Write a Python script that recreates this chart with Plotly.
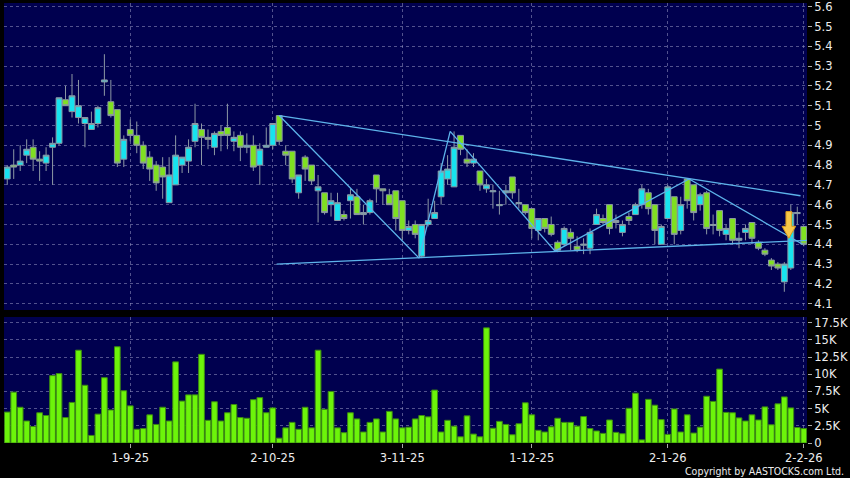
import plotly.graph_objects as go

# ---------------- data ----------------
opens = [4.73, 4.80, 4.80, 4.85, 4.89, 4.83, 4.81, 4.89, 4.91, 5.13,
         5.07, 5.04, 5.01, 4.98, 5.01, 5.22, 5.12, 5.08, 4.83, 4.98,
         4.95, 4.90, 4.84, 4.80, 4.79, 4.61, 4.70, 4.80, 4.82, 4.92,
         4.98, 4.94, 4.89, 4.97, 4.99, 4.92, 4.95, 4.89, 4.90, 4.80,
         4.89, 4.90, 5.05, 4.87, 4.87, 4.66, 4.84, 4.80, 4.67, 4.66,
         4.60, 4.52, 4.55, 4.62, 4.64, 4.55, 4.56, 4.75, 4.68, 4.65,
         4.67, 4.62, 4.47, 4.50, 4.34, 4.50, 4.53, 4.64, 4.73, 4.69,
         4.95, 4.83, 4.81, 4.77, 4.68, 4.665, 4.595, 4.66, 4.74, 4.605,
         4.60, 4.58, 4.47, 4.53, 4.50, 4.41, 4.40, 4.46, 4.39, 4.395,
         4.38, 4.50, 4.53, 4.60, 4.52, 4.46, 4.54, 4.55, 4.60, 4.66,
         4.60, 4.40, 4.53, 4.64, 4.47, 4.73, 4.70, 4.60, 4.66, 4.495,
         4.57, 4.45, 4.53, 4.42, 4.46, 4.51, 4.41, 4.37, 4.32, 4.30,
         4.21, 4.28, 4.555, 4.49]
highs = [4.80, 4.88, 4.90, 4.93, 4.93, 4.87, 4.89, 4.94, 5.14, 5.20,
         5.26, 5.23, 5.04, 5.07, 5.10, 5.36, 5.23, 5.08, 4.95, 5.03,
         5.02, 4.92, 4.87, 4.82, 4.84, 4.84, 4.95, 4.84, 4.93, 5.11,
         5.01, 4.98, 4.97, 5.00, 5.11, 4.97, 4.97, 4.96, 4.95, 4.91,
         4.99, 5.01, 5.05, 4.90, 4.87, 4.75, 4.85, 4.80, 4.75, 4.66,
         4.66, 4.66, 4.57, 4.68, 4.68, 4.60, 4.63, 4.75, 4.68, 4.68,
         4.67, 4.62, 4.52, 4.52, 4.50, 4.63, 4.62, 4.81, 4.85, 4.97,
         4.95, 4.88, 4.86, 4.77, 4.73, 4.70, 4.67, 4.70, 4.74, 4.68,
         4.60, 4.58, 4.53, 4.53, 4.54, 4.42, 4.49, 4.48, 4.44, 4.43,
         4.48, 4.58, 4.55, 4.60, 4.55, 4.52, 4.56, 4.61, 4.70, 4.68,
         4.60, 4.50, 4.70, 4.64, 4.64, 4.73, 4.70, 4.66, 4.67, 4.55,
         4.57, 4.50, 4.53, 4.46, 4.50, 4.51, 4.42, 4.38, 4.33, 4.31,
         4.31, 4.60, 4.59, 4.49]
lows = [4.70, 4.73, 4.77, 4.81, 4.77, 4.72, 4.77, 4.70, 4.90, 5.10,
        5.04, 5.01, 4.89, 4.98, 4.99, 5.15, 5.04, 4.79, 4.79, 4.92,
        4.86, 4.78, 4.72, 4.67, 4.63, 4.61, 4.70, 4.76, 4.76, 4.89,
        4.80, 4.88, 4.85, 4.87, 4.88, 4.87, 4.82, 4.86, 4.77, 4.70,
        4.89, 4.88, 4.90, 4.80, 4.71, 4.63, 4.72, 4.70, 4.51, 4.55,
        4.54, 4.52, 4.52, 4.53, 4.55, 4.50, 4.55, 4.61, 4.60, 4.60,
        4.47, 4.42, 4.45, 4.43, 4.33, 4.49, 4.53, 4.60, 4.70, 4.69,
        4.85, 4.79, 4.79, 4.67, 4.66, 4.58, 4.55, 4.60, 4.63, 4.58,
        4.55, 4.43, 4.42, 4.46, 4.44, 4.36, 4.39, 4.37, 4.36, 4.35,
        4.35, 4.50, 4.50, 4.45, 4.48, 4.44, 4.50, 4.55, 4.58, 4.55,
        4.40, 4.40, 4.53, 4.40, 4.45, 4.58, 4.52, 4.57, 4.45, 4.45,
        4.44, 4.42, 4.40, 4.38, 4.42, 4.40, 4.37, 4.34, 4.27, 4.27,
        4.16, 4.27, 4.50, 4.39]
closes = [4.79, 4.79, 4.82, 4.88, 4.83, 4.82, 4.85, 4.91, 5.14, 5.10,
          5.15, 5.10, 5.04, 5.01, 5.09, 5.23, 5.05, 4.81, 4.93, 4.95,
          4.90, 4.81, 4.78, 4.71, 4.74, 4.75, 4.85, 4.84, 4.89, 5.01,
          4.94, 4.93, 4.96, 4.95, 4.95, 4.94, 4.89, 4.90, 4.79, 4.88,
          4.90, 5.01, 4.92, 4.85, 4.73, 4.75, 4.78, 4.72, 4.69, 4.56,
          4.62, 4.61, 4.53, 4.65, 4.55, 4.56, 4.62, 4.68, 4.67, 4.60,
          4.53, 4.47, 4.49, 4.45, 4.50, 4.52, 4.56, 4.77, 4.78, 4.89,
          4.88, 4.81, 4.83, 4.70, 4.70, 4.67, 4.60, 4.67, 4.66, 4.61,
          4.56, 4.48, 4.53, 4.48, 4.45, 4.37, 4.48, 4.43, 4.37, 4.40,
          4.46, 4.55, 4.51, 4.48, 4.51, 4.50, 4.52, 4.60, 4.68, 4.58,
          4.47, 4.49, 4.69, 4.45, 4.60, 4.62, 4.56, 4.65, 4.48, 4.50,
          4.47, 4.48, 4.42, 4.43, 4.48, 4.43, 4.38, 4.35, 4.29, 4.28,
          4.30, 4.56, 4.56, 4.40]
volumes = [4500, 7400, 5200, 3200, 2400, 4400, 4000, 9800, 10100, 3700,
           5900, 13500, 8400, 1100, 4200, 9500, 4800, 14000, 7600, 5400,
           2000, 2100, 4100, 2700, 5200, 3200, 11800, 6100, 7000, 7000,
           12900, 3300, 6000, 3200, 4400, 5600, 3700, 3600, 6300, 6600,
           4400, 5100, 700, 2200, 3000, 2000, 5200, 2200, 13500, 4900,
           7500, 2200, 1500, 4400, 3500, 1600, 3000, 3500, 1600, 4600,
           3500, 2200, 2300, 3500, 4000, 3800, 7700, 1600, 3300, 2450,
           900, 3950, 1300, 900, 16750, 2150, 3150, 2700, 1200, 2800,
           5850, 4100, 1850, 1600, 2350, 3600, 3000, 3000, 2450, 3850,
           2100, 1750, 1400, 3350, 1550, 1350, 5050, 7250, 450, 6350,
           5500, 3400, 1250, 4950, 1600, 4100, 1450, 2300, 6800, 6050,
           10750, 4450, 4400, 3650, 3200, 4100, 3350, 5250, 2650, 5700,
           6700, 5100, 2250, 2100]

tick_idx = [19, 41, 61, 81, 102, 123]
tick_labels = ["1-9-25", "2-10-25", "3-11-25", "1-12-25", "2-1-26", "2-2-26"]
price_ticks = [4.1, 4.2, 4.3, 4.4, 4.5, 4.6, 4.7, 4.8, 4.9, 5.0,
               5.1, 5.2, 5.3, 5.4, 5.5, 5.6]
price_labels = ["4.1", "4.2", "4.3", "4.4", "4.5", "4.6", "4.7", "4.8", "4.9", "5",
                "5.1", "5.2", "5.3", "5.4", "5.5", "5.6"]
vol_ticks = [0, 2500, 5000, 7500, 10000, 12500, 15000, 17500]
vol_labels = ["0", "2.5K", "5K", "7.5K", "10K", "12.5K", "15K", "17.5K"]

# drawn pattern lines (index, price)
zigzag_idx = [42, 63.6, 68.4, 84.6, 105.3, 122.8]
zigzag_price = [5.05, 4.33, 4.97, 4.365, 4.73, 4.40]
upper_idx = [42, 122.5]
upper_price = [5.05, 4.645]
lower_idx = [41.6, 123.5]
lower_price = [4.30, 4.42]
signal_idx = 120.7
signal_top = 4.565
signal_tip = 4.43

idx = list(range(len(closes)))

# ---------------- figure ----------------
fig = go.Figure()

fig.add_trace(go.Candlestick(
    x=idx, open=opens, high=highs, low=lows, close=closes,
    increasing=dict(fillcolor="#17E3EF", line=dict(color="#8C98A4", width=1)),
    decreasing=dict(fillcolor="#7FE021", line=dict(color="#8C98A4", width=1)),
    whiskerwidth=0, xaxis="x", yaxis="y", hoverinfo="skip", showlegend=False))

line_col = "#5DB3EA"
for xs, ys in [(zigzag_idx, zigzag_price), (upper_idx, upper_price), (lower_idx, lower_price)]:
    fig.add_trace(go.Scatter(x=xs, y=ys, mode="lines", line=dict(color=line_col, width=1.3),
                             xaxis="x", yaxis="y", hoverinfo="skip", showlegend=False))

fig.add_trace(go.Bar(
    x=idx, y=volumes, marker=dict(color="#6CF40A", line=dict(color="#3C8A12", width=1)),
    xaxis="x2", yaxis="y2", hoverinfo="skip", showlegend=False))

# signal arrow (built from the signal values)
neck = signal_top - 0.55 * (signal_top - signal_tip)
sw, hw = 0.45, 1.05
arrow_path = (f"M {signal_idx - sw},{signal_top} L {signal_idx + sw},{signal_top} "
              f"L {signal_idx + sw},{neck} L {signal_idx + hw},{neck} L {signal_idx},{signal_tip} "
              f"L {signal_idx - hw},{neck} L {signal_idx - sw},{neck} Z")
fig.add_shape(type="path", path=arrow_path, xref="x", yref="y",
              fillcolor="#F8C848", line=dict(color="#D99A1C", width=1), layer="above")

grid_col = "rgba(150,150,195,0.55)"
font_col = "#EDEDED"
tick_font = dict(family="DejaVu Sans", size=11.5, color=font_col)

common = dict(showgrid=True, gridcolor=grid_col, griddash="3px,3px", gridwidth=1,
              zeroline=False, showline=False, automargin=False, ticklabeloverflow="allow")

fig.update_layout(
    width=850, height=478,
    margin=dict(l=4, r=43, t=3, b=35),
    paper_bgcolor="#000000", plot_bgcolor="#00004F",
    boxgap=0.1, boxgroupgap=0, bargap=0.12,
    hovermode=False,
    xaxis=dict(domain=[0, 1], range=[-0.5, 123.5], anchor="y",
               tickvals=tick_idx, showticklabels=False, ticks="",
               rangeslider=dict(visible=False), **common),
    yaxis=dict(domain=[0.3023, 1], range=[4.068, 5.6187], anchor="x", side="right",
               tickvals=price_ticks, ticktext=price_labels, ticks="outside", ticklen=4,
               tickcolor="#A8A8A8", tickfont=tick_font, **common),
    xaxis2=dict(domain=[0, 1], range=[-0.5, 123.5], anchor="y2",
                tickvals=tick_idx, ticktext=tick_labels, ticks="outside", ticklen=4,
                tickcolor="#A8A8A8", tickfont=tick_font, **common),
    yaxis2=dict(domain=[0, 0.2864], range=[0, 18330], anchor="x2", side="right",
                tickvals=vol_ticks, ticktext=vol_labels, ticks="outside", ticklen=4,
                tickcolor="#A8A8A8", tickfont=tick_font, **common),
)

fig.add_annotation(text="Copyright by AASTOCKS.com Ltd.", xref="paper", yref="paper",
                   x=1.0486, y=-0.0636, xanchor="right", yanchor="middle", showarrow=False,
                   font=dict(family="DejaVu Sans Condensed, DejaVu Sans", size=10.5, color=font_col))

fig.write_html("out.html", config={"displayModeBar": False},
               post_script="document.body.style.margin='0px';document.body.style.background='#000';")
